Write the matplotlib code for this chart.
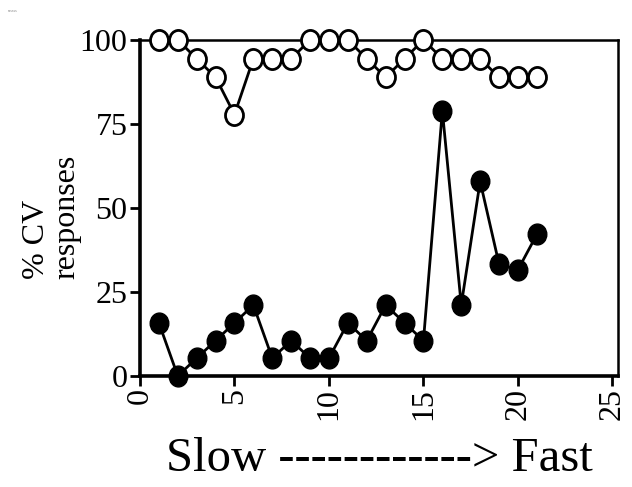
import matplotlib.pyplot as plt
import matplotlib
from matplotlib.path import Path
from matplotlib.transforms import Affine2D

matplotlib.rcParams['font.family'] = 'serif'
matplotlib.rcParams['font.serif'] = ['Liberation Serif', 'DejaVu Serif']

# trial number, slow -> fast
trials = list(range(1, 22))
# % CV responses, open circles
open_vals = [100, 100, 94.4, 88.9, 77.8, 94.4, 94.4, 94.4, 100, 100, 100,
             94.4, 88.9, 94.4, 100, 94.4, 94.4, 94.4, 88.9, 88.9, 88.9]
# % CV responses, filled circles
filled_vals = [15.8, 0, 5.3, 10.5, 15.8, 21.1, 5.3, 10.5, 5.3, 5.3, 15.8,
               10.5, 21.1, 15.8, 10.5, 78.9, 21.1, 57.9, 33.3, 31.6, 42.1]

xticks = [0, 5, 10, 15, 20, 25]
yticks = [0, 25, 50, 75, 100]

# slightly tall circle, like the original graph's symbols
oval = Path.unit_circle().transformed(Affine2D().scale(1.0, 1.12))

fig = plt.figure(figsize=(6.32, 4.87), dpi=100)
ax = fig.add_axes([0.2215, 0.228, 0.7565, 0.69])

ax.plot(trials, filled_vals, '-', color='black', lw=2, zorder=2)
ax.plot(trials, filled_vals, ls='none', marker=oval, color='black', ms=15,
        mec='black', mew=1, clip_on=False, zorder=3)
ax.plot(trials, open_vals, '-', color='black', lw=2, zorder=4)
ax.plot(trials, open_vals, ls='none', marker=oval, mfc='white', mec='black',
        ms=14.5, mew=2, clip_on=False, zorder=5)

ax.set_xlim(0, 25.3)
ax.set_ylim(0, 100)
ax.set_xticks(xticks)
ax.set_yticks(yticks)
ax.set_xticklabels([str(t) for t in xticks], rotation=90, fontsize=23)
ax.set_yticklabels([str(t) for t in yticks], fontsize=23)
ax.tick_params(axis='both', direction='out', length=7, width=2, pad=2)

for s in ['left', 'bottom']:
    ax.spines[s].set_linewidth(2.6)
for s in ['top', 'right']:
    ax.spines[s].set_linewidth(1.8)

ax.set_xlabel('Slow ------------> Fast', fontsize=35, labelpad=12)

# y label: two lines, left aligned
fig.text(0.0815, 0.554, '% CV\nresponses', fontsize=23, rotation=90,
         ha='center', va='center', multialignment='left', linespacing=1.05)

fig.text(0.013, 0.975, 'ssssss', fontsize=3, color='gray')

fig.savefig('out.png', dpi=100)
